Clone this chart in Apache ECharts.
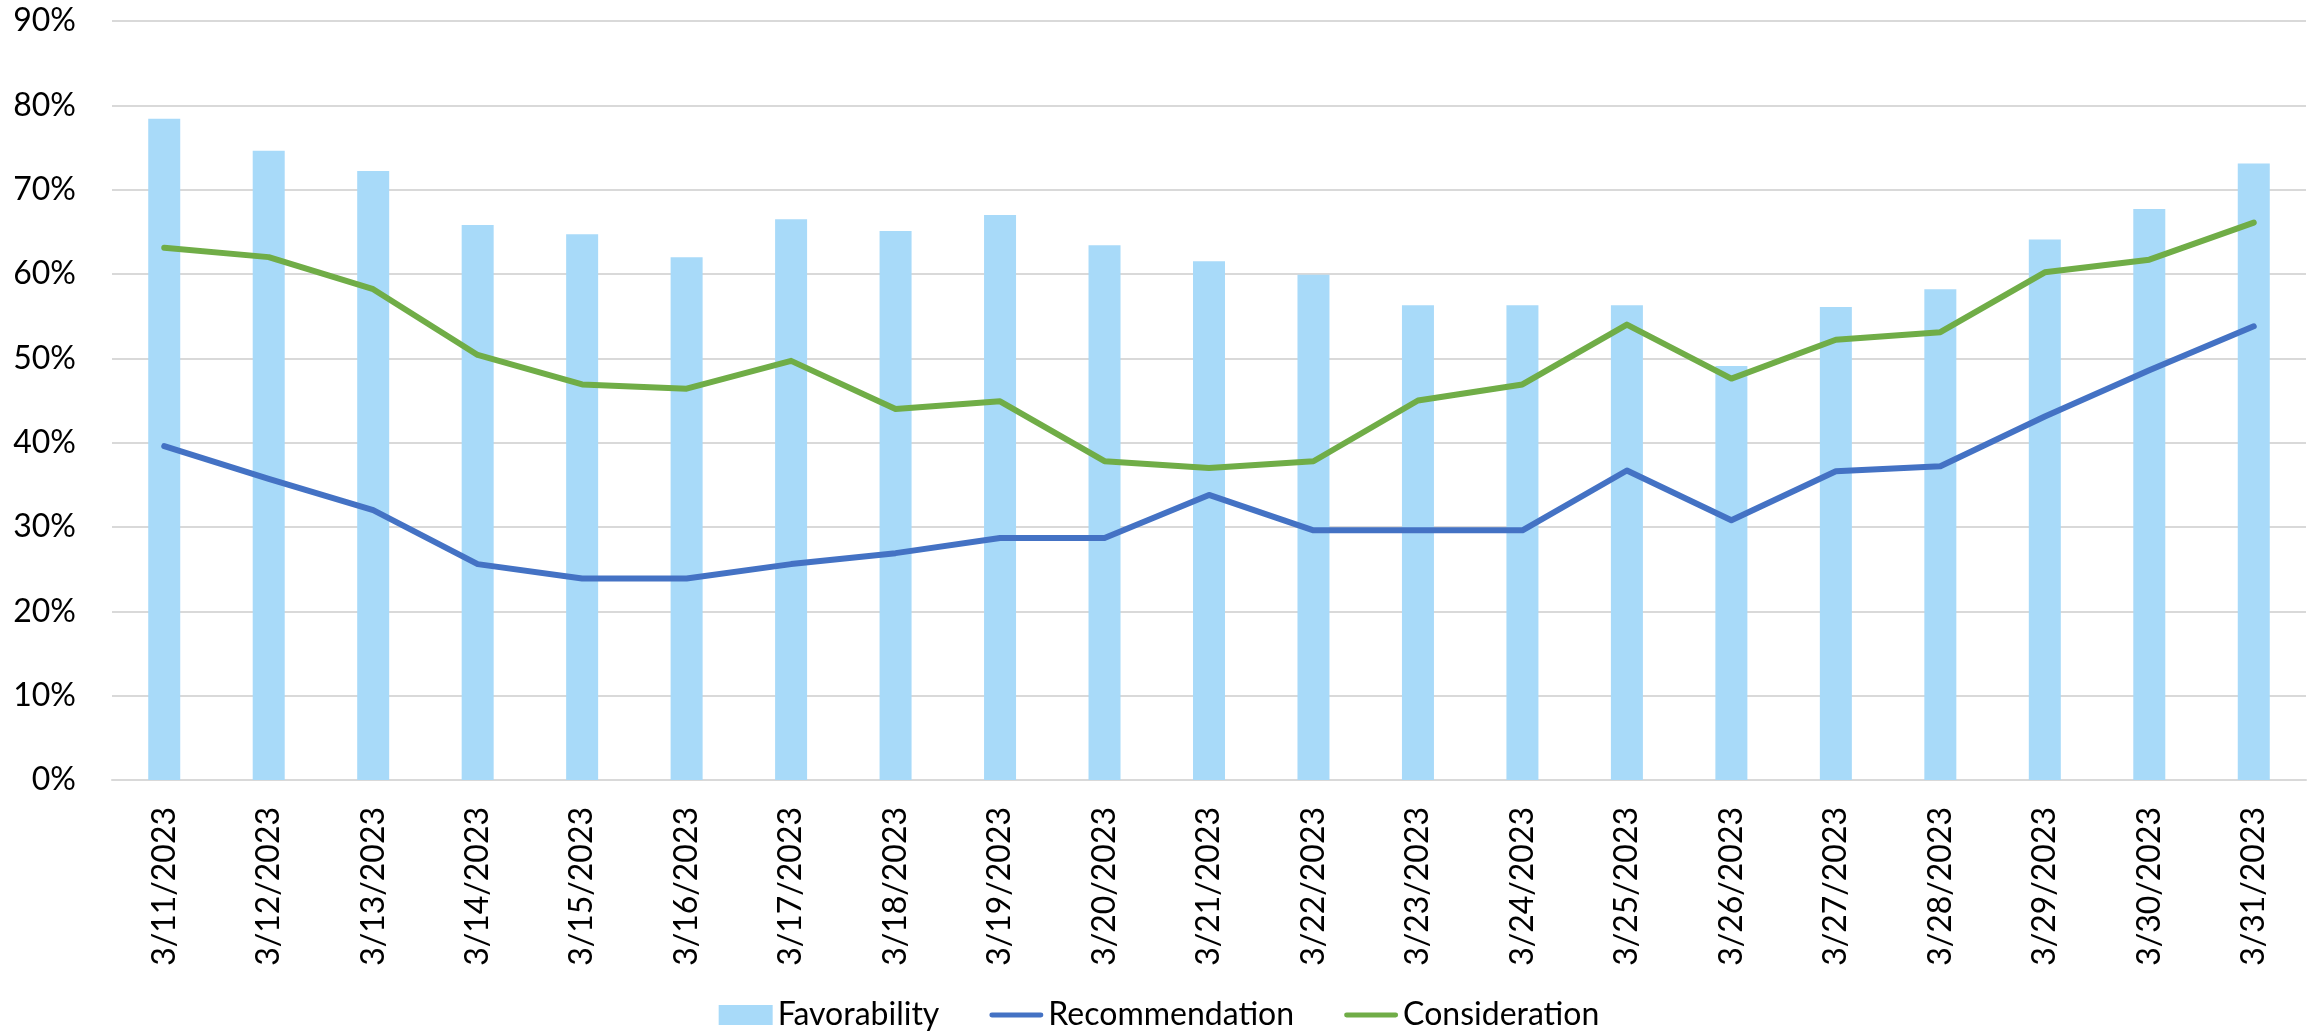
<!DOCTYPE html>
<html>
<head>
<meta charset="utf-8">
<script src="https://cdn.jsdelivr.net/npm/echarts@6/dist/echarts.min.js"></script>
<style>
html,body{margin:0;padding:0;background:#fff;}
#chart{width:2318px;height:1031px;}
</style>
</head>
<body>
<div id="chart"></div>
<script>
const categories = ["3/11/2023","3/12/2023","3/13/2023","3/14/2023","3/15/2023","3/16/2023","3/17/2023","3/18/2023","3/19/2023","3/20/2023","3/21/2023","3/22/2023","3/23/2023","3/24/2023","3/25/2023","3/26/2023","3/27/2023","3/28/2023","3/29/2023","3/30/2023","3/31/2023"];
const favorability = [78.4,74.6,72.2,65.8,64.7,62.0,66.5,65.1,67.0,63.4,61.5,59.9,56.3,56.3,56.3,49.1,56.1,58.2,64.1,67.7,73.1];
const recommendation = [39.6,35.7,32.0,25.6,23.9,23.9,25.6,26.9,28.7,28.7,33.8,29.6,29.6,29.6,36.7,30.8,36.6,37.2,43.1,48.6,53.8];
const consideration = [63.1,62.0,58.2,50.4,46.9,46.4,49.7,44.0,44.9,37.8,37.0,37.8,45.0,46.9,54.0,47.6,52.2,53.1,60.2,61.7,66.1];
const yTicks = [0,10,20,30,40,50,60,70,80,90];

const font = 'Lato, "Open Sans", sans-serif';
const lineIcon = 'path://M0,0 M54,20 M2,7.5 L52,7.5 A2.5,2.5 0 0 1 52,12.5 L2,12.5 A2.5,2.5 0 0 1 2,7.5 Z';
const chart = echarts.init(document.getElementById('chart'));
chart.setOption({
  animation: false,
  backgroundColor: '#ffffff',
  grid: { left: 112, right: 12, top: 21, bottom: 251, containLabel: false },
  legend: {
    top: 994,
    left: 'center',
    itemGap: 50,
    itemWidth: 54,
    itemHeight: 20,
    textStyle: { fontFamily: font, fontSize: 32, color: '#000' },
    data: [
      { name: 'Favorability', icon: 'rect' },
      { name: 'Recommendation', icon: lineIcon },
      { name: 'Consideration', icon: lineIcon }
    ]
  },
  xAxis: {
    type: 'category',
    data: categories,
    axisLine: { show: true, lineStyle: { color: '#D9D9D9', width: 2 } },
    axisTick: { show: false },
    axisLabel: { rotate: 90, margin: 27, fontFamily: font, fontSize: 32, color: '#000', interval: 0 }
  },
  yAxis: {
    type: 'value',
    min: yTicks[0],
    max: yTicks[yTicks.length - 1],
    interval: 10,
    axisLine: { show: false },
    axisTick: { show: false },
    splitLine: { lineStyle: { color: '#D9D9D9', width: 2 } },
    axisLabel: { formatter: '{value}%', margin: 36, fontFamily: font, fontSize: 32, color: '#000' }
  },
  series: [
    {
      name: 'Favorability', type: 'bar', data: favorability, barWidth: 32,
      itemStyle: { color: '#A8DAF9' }, z: 1
    },
    {
      name: 'Recommendation', type: 'line', data: recommendation, symbol: 'none',
      lineStyle: { color: '#4472C4', width: 6, cap: 'round', join: 'round' },
      itemStyle: { color: '#4472C4' }, z: 3
    },
    {
      name: 'Consideration', type: 'line', data: consideration, symbol: 'none',
      lineStyle: { color: '#70AD47', width: 6, cap: 'round', join: 'round' },
      itemStyle: { color: '#70AD47' }, z: 3
    }
  ]
});
</script>
</body>
</html>
